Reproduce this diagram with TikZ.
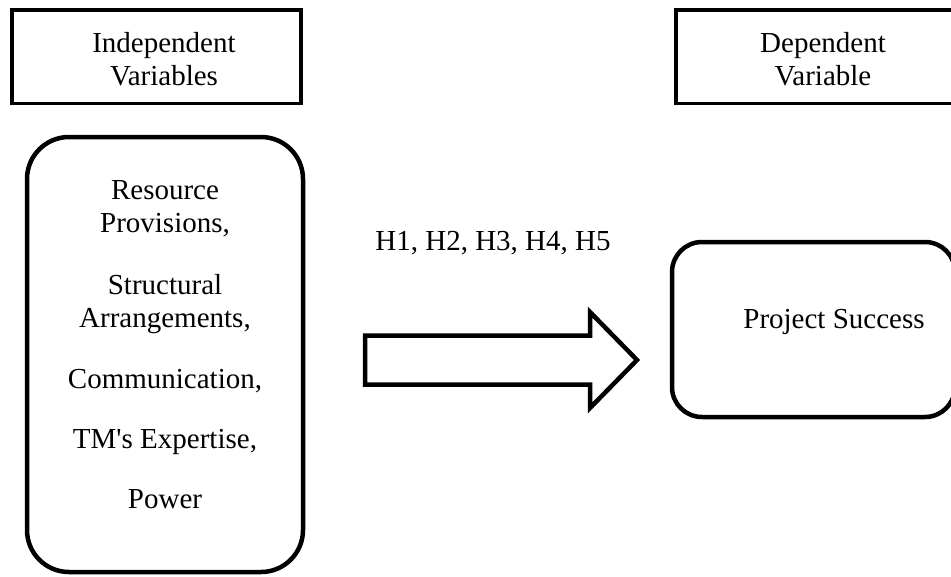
\documentclass[tikz,border=0pt]{standalone}
\usepackage{fontspec}
\setmainfont{Liberation Serif}[Ligatures=TeXOff]
\begin{document}
\begin{tikzpicture}[x=1pt,y=-1pt,
  headbox/.style={draw=black, line width=3.5pt, rectangle, inner sep=0pt},
  roundbox/.style={draw=black, line width=4.5pt, rectangle, rounded corners=#1, inner sep=0pt},
  txt/.style={anchor=base, inner sep=0pt, font=\fontsize{29}{33}\selectfont},
  bigarrow/.style={draw=black, line width=4.5pt, fill=white, line join=miter}
]
\useasboundingbox (0,0) rectangle (951,576);
% header boxes
\node[headbox, minimum width=289pt, minimum height=93.5pt] (ivbox) at (156.5,56.75) {};
\node[headbox, minimum width=279pt, minimum height=93.5pt] (dvbox) at (815.5,56.75) {};
\node[txt] (iv1) at (164,52) {Independent};
\node[txt] (iv2) at (164,85) {Variables};
\node[txt] (dv1) at (823,52) {Dependent};
\node[txt] (dv2) at (823,85) {Variable};
% main boxes
\node[roundbox=42pt, minimum width=276pt, minimum height=435pt] (ivars) at (165,354.5) {};
\node[roundbox=30pt, minimum width=283pt, minimum height=175pt] (success) at (813.5,329.5) {};
\node[txt] (r1) at (165,199) {Resource};
\node[txt] (r2) at (165,232) {Provisions,};
\node[txt] (s1) at (165,294) {Structural};
\node[txt] (s2) at (165,327) {Arrangements,};
\node[txt] (c1) at (165,388) {Communication,};
\node[txt] (t1) at (165,448) {TM's Expertise,};
\node[txt] (p1) at (165,508) {Power};
\node[txt] (ps) at (834,328) {Project Success};
\node[txt] (hyp) at (493,250) {H1, H2, H3, H4, H5};
% block arrow
\coordinate (atail) at (365,360);
\coordinate (atip) at (637,360);
\draw[bigarrow] ([yshift=24.5pt]atail) -- ([xshift=225pt,yshift=24.5pt]atail)
  -- ([xshift=-47pt,yshift=48pt]atip) -- (atip)
  -- ([xshift=-47pt,yshift=-48pt]atip) -- ([xshift=225pt,yshift=-24.5pt]atail)
  -- ([yshift=-24.5pt]atail) -- cycle;
\end{tikzpicture}
\end{document}
